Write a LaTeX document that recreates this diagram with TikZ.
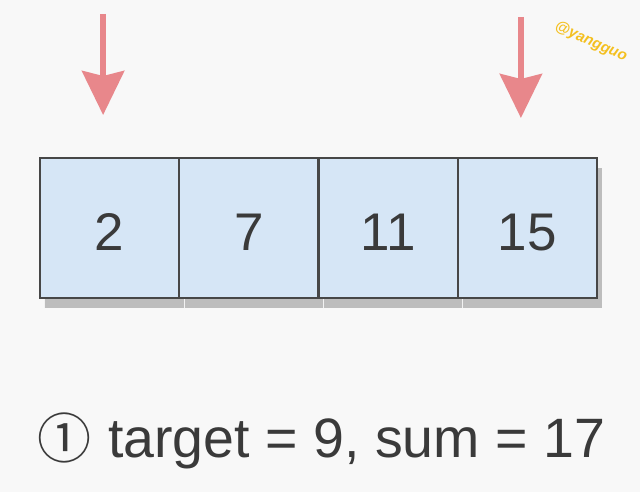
\documentclass[tikz,border=0pt]{standalone}
\usepackage{fontspec}
\setmainfont{Liberation Sans}
\newfontfamily\circfont{Noto Sans CJK SC}
\usetikzlibrary{arrows.meta,calc}
\definecolor{bgc}{HTML}{F8F8F8}
\definecolor{cellfill}{HTML}{D6E6F6}
\definecolor{celldraw}{HTML}{474747}
\definecolor{shadowc}{HTML}{BDBDBD}
\definecolor{arrowc}{HTML}{E8878B}
\definecolor{txt}{HTML}{3A3A3A}
\definecolor{wm}{HTML}{F4C020}
\tikzset{
  cell/.style={draw=celldraw, line width=2.2pt, fill=cellfill, minimum width=139.25pt, minimum height=140pt, inner sep=0pt, outer sep=0pt, font=\fontsize{53}{53}\selectfont, text=txt, text height=44pt, text depth=0pt},
  cellshadow/.style={fill=shadowc, draw=none, minimum width=139.25pt, minimum height=140pt, inner sep=0pt, outer sep=0pt},
  ptr/.style={draw=arrowc, line width=6pt, -{Stealth[length=44pt,width=42pt,inset=5pt]}, arrowc},
}
\begin{document}
\begin{tikzpicture}[x=1pt,y=-1pt]
\fill[bgc] (0,0) rectangle (640,492);
\useasboundingbox (0,0) rectangle (640,492);
% shadows
\foreach \i/\cx in {1/109.6,2/248.9,3/388.1,4/527.4}{
  \node[cellshadow] (s\i) at (\cx+5,238) {};
}
\foreach \i/\cx in {1/109.6,2/248.9,3/388.1,4/527.4}{
  \draw[white!80!shadowc, line width=1pt] ($(s\i.south west)+(0,-10)$) -- (s\i.south west);
}
\node[cell] (c1) at (109.6,228) {2};
\node[cell] (c2) at (248.9,228) {7};
\node[cell] (c3) at (388.1,228) {11};
\node[cell] (c4) at (527.4,228) {15};
% pointers
\coordinate (p1s) at ($(c1.north)+(-6.5,-144)$);
\coordinate (p1e) at ($(c1.north)+(-6.5,-43)$);
\coordinate (p2s) at ($(c4.north)+(-6.5,-141)$);
\coordinate (p2e) at ($(c4.north)+(-6.5,-40)$);
\draw[ptr] (p1s) -- (p1e);
\draw[ptr] (p2s) -- (p2e);
% caption
\node[anchor=center, inner sep=0pt, text=txt, font=\circfont\fontsize{54}{54}\selectfont] (num) at (64,438) {①};
\node[anchor=base west, inner sep=0pt, text=txt, font=\fontsize{55.5}{55.5}\selectfont] (cap) at (108,457) {target = 9, sum = 17};
% watermark
\node[text=wm, rotate=-24, inner sep=0pt, font=\itshape\bfseries\fontsize{15}{15}\selectfont] (wmk) at (591,42) {@yangguo};
\end{tikzpicture}
\end{document}
